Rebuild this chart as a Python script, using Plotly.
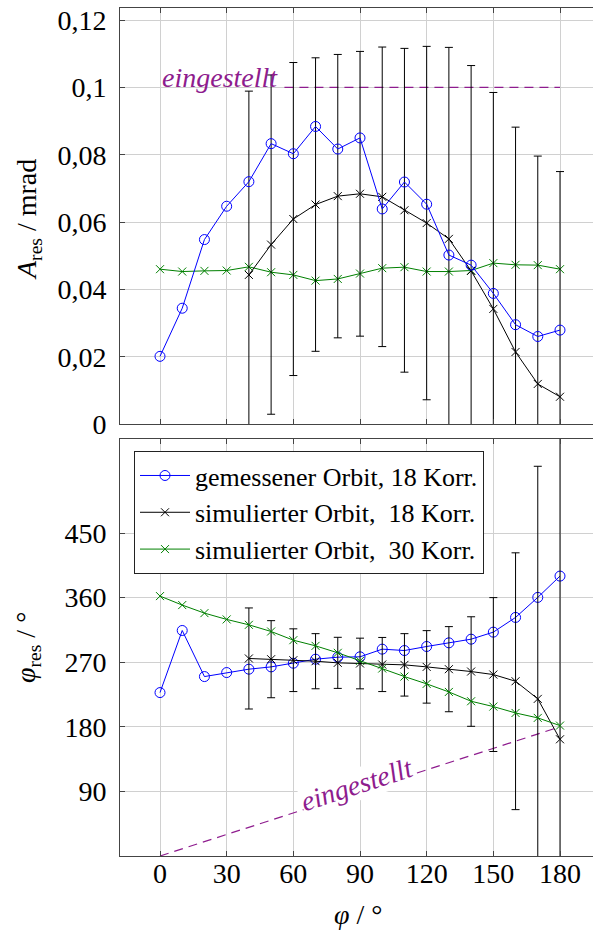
import plotly.graph_objects as go

# ---------------- data ----------------
phi_all = [0, 10, 20, 30, 40, 50, 60, 70, 80, 90, 100, 110, 120, 130, 140, 150, 160, 170, 180]
phi_sim18 = [40, 50, 60, 70, 80, 90, 100, 110, 120, 130, 140, 150, 160, 170, 180]

# amplitude A_res / mrad
amp_meas18 = [0.0201, 0.0344, 0.0548, 0.0647, 0.0720, 0.0833, 0.0803, 0.0884, 0.0817, 0.0850,
              0.0639, 0.0719, 0.0653, 0.0502, 0.0472, 0.0388, 0.0295, 0.0260, 0.0279]
amp_sim18 = [0.0443, 0.0533, 0.0609, 0.0652, 0.0677, 0.0684, 0.0675, 0.0635, 0.0597, 0.0550,
             0.0455, 0.0342, 0.0214, 0.0119, 0.0081]
amp_sim18_err = [0.0546, 0.0504, 0.0465, 0.0436, 0.0421, 0.0423, 0.0445, 0.0481, 0.0525, 0.0569,
                 0.0610, 0.0643, 0.0668, 0.0677, 0.0669]
amp_sim30 = [0.0460, 0.0453, 0.0455, 0.0456, 0.0467, 0.0451, 0.0443, 0.0426, 0.0431, 0.0447,
             0.0463, 0.0466, 0.0453, 0.0453, 0.0456, 0.0478, 0.0473, 0.0472, 0.0460]

# phase phi_res / deg
ph_meas18 = [227.7, 314.2, 250.0, 255.6, 260.3, 263.5, 268.6, 274.2, 277.0, 277.5,
             288.2, 286.3, 291.9, 297.0, 302.1, 311.9, 332.4, 360.3, 390.0]
ph_sim18 = [275.2, 274.2, 272.8, 271.4, 269.1, 268.2, 266.8, 266.3, 263.5, 260.3,
            257.0, 252.8, 243.5, 218.9, 162.6]
ph_sim18_err = [70.4, 53.7, 43.7, 38.4, 35.6, 35.3, 37.7, 43.5, 50.5, 59.3,
                76.3, 107.2, 178.9, 324.1, 450.0]
ph_sim30 = [362.1, 349.6, 338.4, 329.6, 322.1, 312.8, 300.7, 292.8, 283.1, 271.9,
            261.2, 250.0, 239.8, 228.6, 215.6, 208.2, 199.3, 192.4, 181.7]

# set values ("eingestellt")
set_amp_x = [56, 180]
set_amp_y = [0.1, 0.1]
set_ph_x = [0, 180]
set_ph_y = [0, 180]

x_ticks = [0, 30, 60, 90, 120, 150, 180]
amp_ticks = [0, 0.02, 0.04, 0.06, 0.08, 0.1, 0.12]
amp_ticktext = ["0", "0,02", "0,04", "0,06", "0,08", "0,1", "0,12"]
ph_ticks = [90, 180, 270, 360, 450]

names = ["gemessener Orbit, 18 Korr.",
         "simulierter Orbit,&nbsp; 18 Korr.",
         "simulierter Orbit,&nbsp; 30 Korr."]

# ---------------- style ----------------
FONT = "Liberation Serif"
FS = 28
FSL = 26
BLUE = "#0000ff"
BLACK = "#000000"
GREEN = "#008000"
PURPLE = "#8e1c8e"
GRID = "#d0d0d0"
AXC = "#444444"

fig = go.Figure()

# ---- top panel (amplitude) ----
fig.add_trace(go.Scatter(x=set_amp_x, y=set_amp_y, mode="lines", xaxis="x2", yaxis="y2",
                         line=dict(color=PURPLE, width=1.2, dash="9px,6px"), showlegend=False,
                         hoverinfo="skip"))
fig.add_trace(go.Scatter(x=phi_all, y=amp_sim30, mode="lines+markers", xaxis="x2", yaxis="y2",
                         line=dict(color=GREEN, width=1),
                         marker=dict(symbol="x-thin-open", size=8, color=GREEN, line=dict(width=1, color=GREEN)),
                         showlegend=False))
fig.add_trace(go.Scatter(x=phi_sim18, y=amp_sim18, mode="lines+markers", xaxis="x2", yaxis="y2",
                         line=dict(color=BLACK, width=1),
                         marker=dict(symbol="x-thin-open", size=8, color=BLACK, line=dict(width=1, color=BLACK)),
                         error_y=dict(type="data", array=amp_sim18_err, visible=True, color=BLACK,
                                      thickness=1, width=4),
                         showlegend=False))
fig.add_trace(go.Scatter(x=phi_all, y=amp_meas18, mode="lines+markers", xaxis="x2", yaxis="y2",
                         line=dict(color=BLUE, width=1),
                         marker=dict(symbol="circle-open", size=10, color=BLUE, line=dict(width=1, color=BLUE)),
                         showlegend=False))

# ---- bottom panel (phase) ----
fig.add_trace(go.Scatter(x=set_ph_x, y=set_ph_y, mode="lines", xaxis="x", yaxis="y",
                         line=dict(color=PURPLE, width=1.2, dash="9px,6px"), showlegend=False,
                         hoverinfo="skip"))
fig.add_trace(go.Scatter(x=phi_all, y=ph_meas18, mode="lines+markers", xaxis="x", yaxis="y",
                         name=names[0], line=dict(color=BLUE, width=1),
                         marker=dict(symbol="circle-open", size=10, color=BLUE, line=dict(width=1, color=BLUE))))
fig.add_trace(go.Scatter(x=phi_sim18, y=ph_sim18, mode="lines+markers", xaxis="x", yaxis="y",
                         name=names[1], line=dict(color=BLACK, width=1),
                         marker=dict(symbol="x-thin-open", size=8, color=BLACK, line=dict(width=1, color=BLACK)),
                         error_y=dict(type="data", array=ph_sim18_err, visible=True, color=BLACK,
                                      thickness=1, width=4)))
fig.add_trace(go.Scatter(x=phi_all, y=ph_sim30, mode="lines+markers", xaxis="x", yaxis="y",
                         name=names[2], line=dict(color=GREEN, width=1),
                         marker=dict(symbol="x-thin-open", size=8, color=GREEN, line=dict(width=1, color=GREEN))))

axis_common = dict(showgrid=True, gridcolor=GRID, gridwidth=1, zeroline=False,
                   showline=True, linecolor=AXC, linewidth=1,
                   ticks="inside", ticklen=5, tickcolor=AXC, tickwidth=1,
                   tickfont=dict(family=FONT, size=FS, color="black"))

XR = [-18, 194.85]

fig.update_layout(
    width=593, height=933,
    margin=dict(l=120, r=0, t=8, b=77),
    paper_bgcolor="white", plot_bgcolor="white",
    font=dict(family=FONT, size=FS, color="black"),
    xaxis=dict(axis_common, range=XR, domain=[0, 1], anchor="y", tickvals=x_ticks,
               mirror="ticks", ticklabelstandoff=-8),
    yaxis=dict(axis_common, range=[0, 581], domain=[0, 0.49175], anchor="x", tickvals=ph_ticks,
               ticklabelstandoff=7),
    xaxis2=dict(axis_common, range=XR, domain=[0, 1], anchor="y2", tickvals=x_ticks,
                showticklabels=False, mirror="ticks", matches="x"),
    yaxis2=dict(axis_common, range=[0, 0.1236], domain=[0.50943, 1], anchor="x2",
                tickvals=amp_ticks, ticktext=amp_ticktext, ticklabelstandoff=7),
    legend=dict(x=0.0296, y=0.4775, xanchor="left", yanchor="top",
                bgcolor="white", bordercolor="#222222", borderwidth=1,
                font=dict(family=FONT, size=FSL, color="black"),
                itemwidth=50, tracegroupgap=0),
    annotations=[
        dict(text="<i>A</i><sub>res</sub> / mrad", xref="paper", yref="paper",
             x=-0.1945, y=0.750, textangle=-90, showarrow=False,
             font=dict(family=FONT, size=FS, color="black"), xanchor="center", yanchor="middle"),
        dict(text="<i>φ</i><sub>res</sub> / °", xref="paper", yref="paper",
             x=-0.1945, y=0.2453, textangle=-90, showarrow=False,
             font=dict(family=FONT, size=FS, color="black"), xanchor="center", yanchor="middle"),
        dict(text="<i>φ</i> / °", xref="paper", yref="paper",
             x=0.503, y=-0.0685, showarrow=False,
             font=dict(family=FONT, size=FS, color="black"), xanchor="center", yanchor="middle"),
        dict(text="<i>eingestellt</i>", xref="x2", yref="y2", x=0, y=0.1,
             xanchor="left", yanchor="bottom", yshift=-8, showarrow=False,
             font=dict(family=FONT, size=FS, color=PURPLE)),
        dict(text="<i>eingestellt</i>", xref="x", yref="y", x=88.7, y=99,
             xanchor="center", yanchor="middle", textangle=-18, showarrow=False,
             bgcolor="white", borderpad=0,
             font=dict(family=FONT, size=FS, color=PURPLE)),
    ],
)

fig.write_html("out.html")
